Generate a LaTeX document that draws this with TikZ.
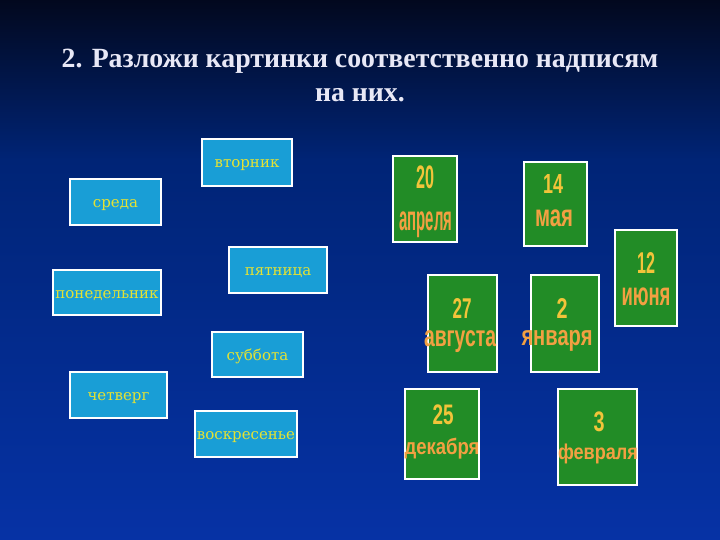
\documentclass[tikz,border=0pt]{standalone}
\usepackage{fontspec}
\usepackage{graphicx}
\setmainfont{Liberation Serif}
\newfontfamily\boxfont{DejaVu Serif}
\newfontfamily\artfont{Liberation Sans}
\definecolor{bgtop}{RGB}{2,8,30}
\definecolor{bgmid}{RGB}{0,36,118}
\definecolor{bgbot}{RGB}{6,50,165}
\definecolor{dayfill}{RGB}{25,158,214}
\definecolor{daytext}{RGB}{228,226,52}
\definecolor{cardfill}{RGB}{34,140,38}
\definecolor{numcol}{RGB}{242,196,58}
\definecolor{moncol}{RGB}{242,160,66}
\definecolor{titlecol}{RGB}{232,232,246}
\newcommand\wordart[3]{\resizebox*{#1}{#2}{\artfont\bfseries #3}}
\begin{document}
\begin{tikzpicture}[x=1pt,y=-1pt,
  daybox/.style={draw=white, line width=1.1pt, fill=dayfill, inner sep=0pt,
    font=\boxfont\fontsize{15}{17}\selectfont, text=daytext,
    text height=11pt, text depth=0pt},
  card/.style={draw=white, line width=1.1pt, fill=cardfill, inner sep=0pt},
  numtxt/.style={inner sep=0pt, text=numcol},
  montxt/.style={inner sep=0pt, text=moncol},
  titletxt/.style={align=center, text=titlecol, inner sep=0pt,
    font=\bfseries\fontsize{27.8}{34}\selectfont}]
\useasboundingbox (0,0) rectangle (720,540);
\shade[top color=bgtop, bottom color=bgmid] (0,0) rectangle (720,160);
\shade[top color=bgmid, bottom color=bgbot] (0,160) rectangle (720,540);

\node[titletxt] (title) at (360,75) {2. Разложи картинки соответственно надписям\\на них.};

% day boxes
\node[daybox, minimum width=90pt, minimum height=47pt] (tue) at (247,162.5) {вторник};
\node[daybox, minimum width=91pt, minimum height=46pt] (wed) at (115.5,202) {среда};
\node[daybox, minimum width=98pt, minimum height=46pt] (fri) at (278,270) {пятница};
\node[daybox, minimum width=108pt, minimum height=45pt] (mon) at (107,292.5) {понедельник};
\node[daybox, minimum width=91pt, minimum height=45pt] (sat) at (257.5,354.5) {суббота};
\node[daybox, minimum width=97pt, minimum height=46pt] (thu) at (118.5,395) {четверг};
\node[daybox, minimum width=102pt, minimum height=46pt] (sun) at (246,434) {воскресенье};

% date cards
\node[card, minimum width=64pt, minimum height=86pt] (c1) at (425,199) {};
\node[card, minimum width=63pt, minimum height=84pt] (c2) at (555.5,204) {};
\node[card, minimum width=62pt, minimum height=96pt] (c3) at (646,278) {};
\node[card, minimum width=69pt, minimum height=97pt] (c4) at (462.5,323.5) {};
\node[card, minimum width=68pt, minimum height=97pt] (c5) at (565,323.5) {};
\node[card, minimum width=74pt, minimum height=90pt] (c6) at (442,434) {};
\node[card, minimum width=79pt, minimum height=96pt] (c7) at (597.5,437) {};

\node[numtxt] (n1) at (425,177) {\wordart{18pt}{23pt}{20}};
\node[montxt] (m1) at (426,225) {\wordart{53pt}{26pt}{апреля}};
\node[numtxt] (n2) at (553,184) {\wordart{20pt}{19pt}{14}};
\node[montxt] (m2) at (554,218) {\wordart{38pt}{17pt}{мая}};
\node[numtxt] (n3) at (646,263) {\wordart{18pt}{21pt}{12}};
\node[montxt] (m3) at (646,297) {\wordart{49pt}{18pt}{июня}};
\node[numtxt] (n4) at (462,308) {\wordart{19pt}{20pt}{27}};
\node[montxt] (m4) at (460,342) {\wordart{72pt}{22pt}{августа}};
\node[numtxt] (n5) at (562,308) {\wordart{11pt}{20pt}{2}};
\node[montxt] (m5) at (557,341) {\wordart{71pt}{21pt}{января}};
\node[numtxt] (n6) at (443,415) {\wordart{21pt}{20pt}{25}};
\node[montxt] (m6) at (442,449) {\wordart{75pt}{21pt}{декабря}};
\node[numtxt] (n7) at (599,422) {\wordart{11pt}{20pt}{3}};
\node[montxt] (m7) at (598,454) {\wordart{80pt}{20pt}{февраля}};
\end{tikzpicture}
\end{document}
